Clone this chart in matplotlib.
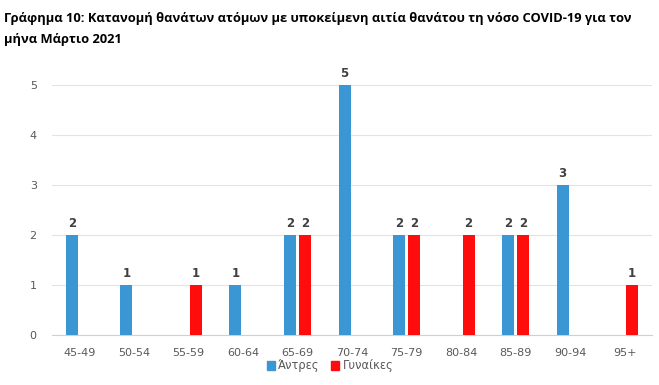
import matplotlib
matplotlib.use("Agg")
import matplotlib.pyplot as plt
import numpy as np
from matplotlib.patches import Patch

categories = ["45-49", "50-54", "55-59", "60-64", "65-69", "70-74", "75-79", "80-84", "85-89", "90-94", "95+"]
men = [2, 1, 0, 1, 2, 5, 2, 0, 2, 3, 0]
women = [0, 0, 1, 0, 2, 0, 2, 2, 2, 0, 1]
yticks = [0, 1, 2, 3, 4, 5]

blue = "#3B97D3"
red = "#FF0D0D"
gray = "#595959"

fig = plt.figure(figsize=(6.59, 3.85), dpi=100)
ax = fig.add_axes([52/659, 1-335/385, 600/659, 250/385])

x = np.arange(len(categories))
w = 0.22
off = 0.137
bm = ax.bar(x - off, men, w, color=blue, zorder=3)
bw = ax.bar(x + off, women, w, color=red, zorder=3)

for rects, vals in ((bm, men), (bw, women)):
    for r, v in zip(rects, vals):
        if v > 0:
            ax.text(r.get_x() + r.get_width()/2, v + 0.1, str(v), ha="center", va="bottom",
                    fontsize=8.5, fontweight="bold", color="#404040")

ax.set_xlim(-0.5, len(categories) - 0.5)
ax.set_ylim(0, 5)
ax.set_yticks(yticks)
ax.set_xticks(x)
ax.set_xticklabels(categories)
ax.tick_params(axis="both", length=0, labelsize=8, colors=gray)
ax.tick_params(axis="y", pad=11)
ax.tick_params(axis="x", pad=9)
ax.grid(axis="y", color="#E3E3E3", linewidth=0.8, zorder=0)
for s in ("top", "right", "left"):
    ax.spines[s].set_visible(False)
ax.spines["bottom"].set_color("#D0D0D0")

fig.text(4/659, 1-29/385, "Γράφημα 10: Κατανομή θανάτων ατόμων με υποκείμενη αιτία θανάτου τη νόσο COVID-19 για τον\nμήνα Μάρτιο 2021",
         ha="left", va="center", fontsize=9.25, fontweight="bold", color="black", linespacing=1.75,
         fontfamily="Open Sans")

handles = [Patch(color=blue, label="Άντρες"), Patch(color=red, label="Γυναίκες")]
fig.legend(handles=handles, loc="center", bbox_to_anchor=(330/659, 1-366/385), ncol=2, frameon=False,
           fontsize=8.3, handlelength=0.7, handleheight=0.7, handletextpad=0.3, columnspacing=1.0,
           labelcolor=gray)

fig.savefig("out.png", dpi=100, facecolor="white")
